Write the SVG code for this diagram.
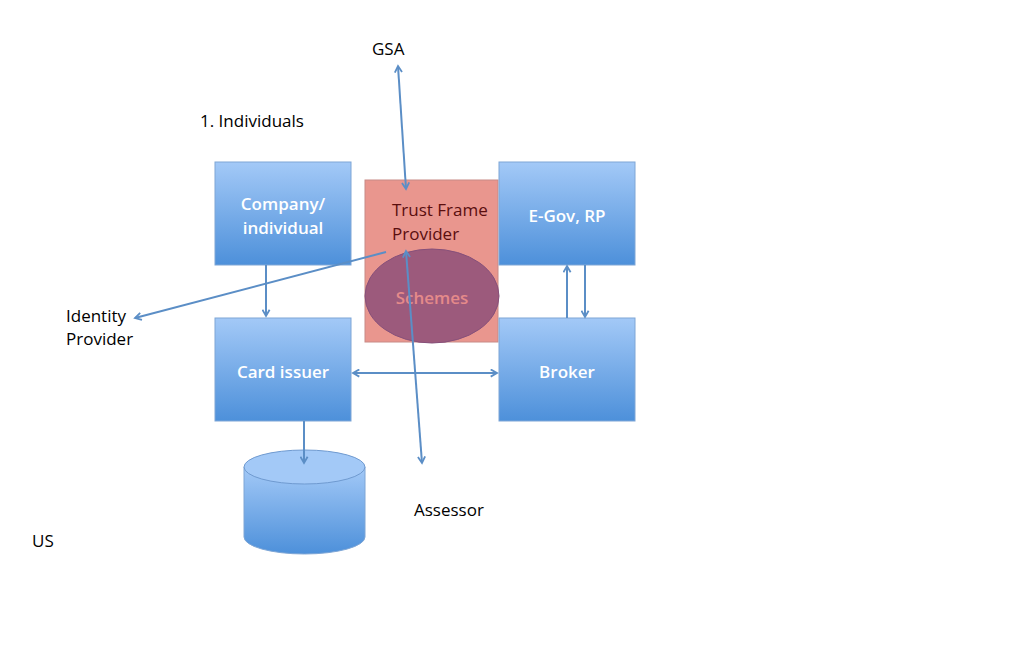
<svg xmlns="http://www.w3.org/2000/svg" width="1035" height="671" viewBox="0 0 1035 671">
<defs>
<linearGradient id="bg" x1="0" y1="0" x2="0" y2="1">
<stop offset="0" stop-color="#a3c9f7"/>
<stop offset="1" stop-color="#4d90da"/>
</linearGradient>
<marker id="ah" viewBox="0 0 10 10" refX="8" refY="5" markerWidth="9" markerHeight="9" orient="auto-start-reverse" markerUnits="userSpaceOnUse">
<path d="M1,1 L8,5 L1,9" fill="none" stroke="#5b8ec6" stroke-width="2"/>
</marker>
</defs>
<style>
.box{fill:url(#bg);stroke:#7ea6d6;stroke-width:1}
.bt{font-family:"Open Sans","Liberation Sans",sans-serif;font-size:17px;font-weight:600;fill:#fff;text-anchor:middle}
.lb{font-family:"Open Sans","Liberation Sans",sans-serif;font-size:17px;fill:#000}
.c{stroke:#5b8ec6;stroke-width:2;fill:none}
</style>
<rect width="1035" height="671" fill="#fff"/>
<g id="company"><rect class="box" x="215" y="162" width="136" height="103"/><text class="bt" x="283" y="210">Company/</text><text class="bt" x="283" y="234">individual</text></g>
<g id="trust"><rect x="365" y="180" width="133" height="162" fill="#e9968e" stroke="#c88a86"/><text x="392" y="216" font-family="Open Sans, Liberation Sans, sans-serif" font-size="17" fill="#5a0e0e">Trust Frame</text><text x="392" y="240" font-family="Open Sans, Liberation Sans, sans-serif" font-size="17" fill="#5a0e0e">Provider</text></g>
<g id="schemes"><ellipse cx="432" cy="296" rx="67" ry="47" fill="#9c5a7c" stroke="#86507a" stroke-width="1"/><text x="432" y="304" text-anchor="middle" font-family="Open Sans, Liberation Sans, sans-serif" font-size="17" font-weight="600" fill="#e58a8a">Schemes</text></g>
<g id="egov"><rect class="box" x="499" y="162" width="136" height="103"/><text class="bt" x="567" y="222">E-Gov, RP</text></g>
<g id="card"><rect class="box" x="215" y="318" width="136" height="103"/><text class="bt" x="283" y="378">Card issuer</text></g>
<g id="broker"><rect class="box" x="499" y="318" width="136" height="103"/><text class="bt" x="567" y="378">Broker</text></g>
<g id="db"><path d="M244,467 L244,537 A60.5,17 0 0 0 365,537 L365,467 Z" fill="url(#bg)" stroke="#7ea6d6"/><ellipse cx="304.5" cy="467" rx="60.5" ry="17" fill="#a3c9f7" stroke="#6f9ad0"/></g>
<g id="labels">
<text class="lb" x="372" y="55">GSA</text>
<text class="lb" x="200" y="127">1. Individuals</text>
<text class="lb" x="66" y="322">Identity</text>
<text class="lb" x="66" y="345">Provider</text>
<text class="lb" x="414" y="516">Assessor</text>
<text class="lb" x="32" y="547">US</text>
</g>
<g id="connectors">
<line class="c" x1="398" y1="66" x2="406" y2="189" marker-start="url(#ah)" marker-end="url(#ah)"/>
<line class="c" x1="266" y1="265" x2="266" y2="316" marker-end="url(#ah)"/>
<line class="c" x1="386" y1="252" x2="135" y2="318" marker-end="url(#ah)"/>
<line class="c" x1="422" y1="463" x2="406" y2="251" marker-start="url(#ah)" marker-end="url(#ah)"/>
<line class="c" x1="353" y1="373" x2="497" y2="373" marker-start="url(#ah)" marker-end="url(#ah)"/>
<line class="c" x1="567" y1="318" x2="567" y2="266" marker-end="url(#ah)"/>
<line class="c" x1="585" y1="265" x2="585" y2="317" marker-end="url(#ah)"/>
<line class="c" x1="304" y1="421" x2="304" y2="463" marker-end="url(#ah)"/>
</g>
</svg>
